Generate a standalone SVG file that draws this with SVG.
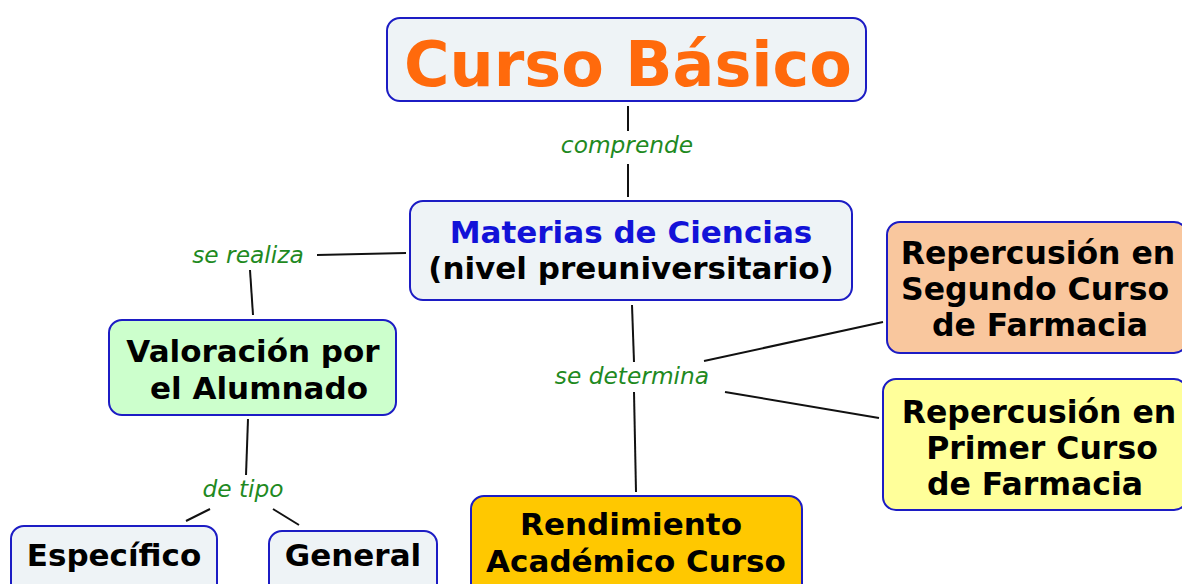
<svg xmlns="http://www.w3.org/2000/svg" width="1182" height="584" viewBox="0 0 1182 584">
<style>
.box{stroke:#1c1cc4;stroke-width:2;}
.t{font-family:"DejaVu Sans",Verdana,sans-serif;font-weight:bold;font-size:31px;fill:#000;text-anchor:middle;}
.r{font-size:31.5px;}
.lbl{font-family:"DejaVu Sans",Verdana,sans-serif;font-style:italic;font-size:23.3px;fill:#1f8a1f;text-anchor:middle;}
.c line{stroke:#111;stroke-width:2;}
</style>
<rect width="1182" height="584" fill="#fff"/>
<g class="c" id="connectors">
<line x1="628" y1="106" x2="628" y2="131"/>
<line x1="628" y1="164" x2="628" y2="197"/>
<line x1="317" y1="255" x2="406" y2="253"/>
<line x1="250" y1="270" x2="253" y2="315"/>
<line x1="632" y1="305" x2="634" y2="362"/>
<line x1="634" y1="392" x2="636" y2="492"/>
<line x1="704" y1="361" x2="883" y2="322"/>
<line x1="725" y1="392" x2="879" y2="418"/>
<line x1="248" y1="419" x2="246" y2="475"/>
<line x1="186" y1="521" x2="210" y2="509"/>
<line x1="273" y1="509" x2="299" y2="525"/>
</g>
<g id="labels">
<text class="lbl" x="627" y="153">comprende</text>
<text class="lbl" x="248" y="263">se realiza</text>
<text class="lbl" x="632" y="384">se determina</text>
<text class="lbl" x="243" y="497">de tipo</text>
</g>
<g id="curso-basico">
<rect class="box" x="387" y="18" width="479" height="83" rx="13" fill="#eef3f6"/>
<text class="t" x="628" y="86" style="font-size:62px;fill:#ff6a0c">Curso Básico</text>
</g>
<g id="materias">
<rect class="box" x="410" y="201" width="442" height="99" rx="13" fill="#eef3f6"/>
<text class="t" x="631" y="243" style="fill:#1212d8">Materias de Ciencias</text>
<text class="t" x="631" y="279">(nivel preuniversitario)</text>
</g>
<g id="segundo">
<rect class="box" x="887" y="222" width="300" height="131" rx="13" fill="#f9c79e"/>
<text class="t r" x="1038" y="264">Repercusión en</text>
<text class="t r" x="1035" y="300">Segundo Curso</text>
<text class="t r" x="1040" y="336">de Farmacia</text>
</g>
<g id="primer">
<rect class="box" x="883" y="379" width="304" height="131" rx="13" fill="#ffff9a"/>
<text class="t r" x="1039" y="423">Repercusión en</text>
<text class="t r" x="1042" y="459">Primer Curso</text>
<text class="t r" x="1035" y="495">de Farmacia</text>
</g>
<g id="valoracion">
<rect class="box" x="109" y="320" width="287" height="95" rx="13" fill="#ccffcc"/>
<text class="t" x="253" y="362">Valoración por</text>
<text class="t" x="259" y="399">el Alumnado</text>
</g>
<g id="rendimiento">
<rect class="box" x="471" y="496" width="331" height="100" rx="13" fill="#ffc800"/>
<text class="t" x="631" y="535">Rendimiento</text>
<text class="t" x="636" y="572">Académico Curso</text>
</g>
<g id="especifico">
<rect class="box" x="11" y="526" width="206" height="70" rx="13" fill="#eef3f6"/>
<text class="t" x="114" y="566">Específico</text>
</g>
<g id="general">
<rect class="box" x="269" y="531" width="168" height="65" rx="13" fill="#eef3f6"/>
<text class="t" x="353" y="566">General</text>
</g>
</svg>
